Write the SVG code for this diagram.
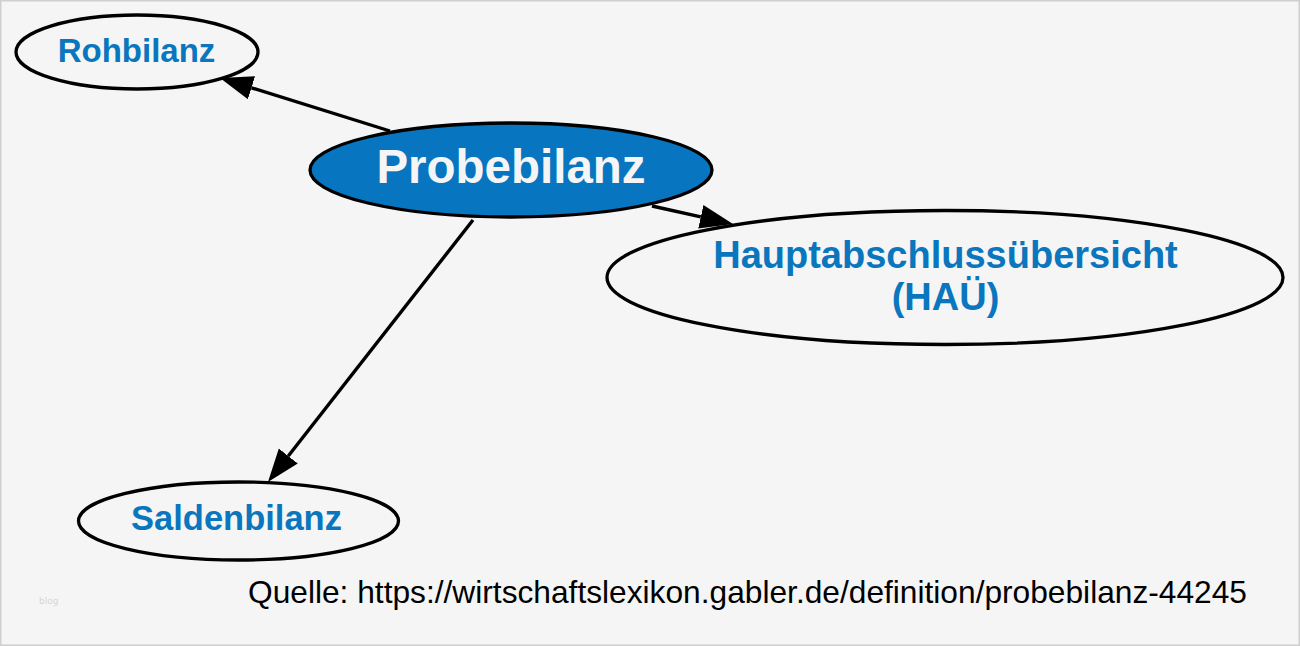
<svg xmlns="http://www.w3.org/2000/svg" width="1300" height="646" viewBox="0 0 1300 646">
<defs>
<style>
.bg{fill:#f5f5f5;stroke:#cfcfcf;stroke-width:1.5}
.node{fill:#f5f5f5;stroke:#000;stroke-width:3.3}
.main{fill:#0875c0;stroke:#000;stroke-width:3.3}
.lbl{font-family:"Liberation Sans",Arial,sans-serif;font-weight:bold;fill:#0a76be;text-anchor:middle}
.edge{stroke:#000;stroke-width:3.4;fill:none;marker-end:url(#arrow)}
</style>
<marker id="arrow" markerUnits="userSpaceOnUse" markerWidth="34" markerHeight="26" refX="0" refY="12" orient="auto" viewBox="0 0 34 26">
<path d="M0,0 L33,12 L0,24 Z" fill="#000"/>
</marker>
</defs>
<rect class="bg" x="0.75" y="0.75" width="1298.5" height="644.5"/>
<g id="connectors">
<line class="edge" x1="390" y1="131" x2="251.5" y2="87.8"/>
<line class="edge" x1="652" y1="206" x2="700.8" y2="216.8"/>
<line class="edge" x1="473" y1="220" x2="288.3" y2="456"/>
</g>
<g id="rohbilanz">
<ellipse class="node" cx="137" cy="52" rx="121" ry="37"/>
<text class="lbl" x="136.5" y="62" font-size="33">Rohbilanz</text>
</g>
<g id="probebilanz">
<ellipse class="main" cx="511" cy="170" rx="201" ry="47"/>
<text class="lbl" x="511" y="183" font-size="47.5" style="fill:#f5f5f5">Probebilanz</text>
</g>
<g id="hauptabschlussuebersicht">
<ellipse class="node" cx="945" cy="277.5" rx="338" ry="67"/>
<text class="lbl" x="945.5" y="268" font-size="38">Hauptabschlussübersicht</text>
<text class="lbl" x="945.5" y="310" font-size="38">(HAÜ)</text>
</g>
<g id="saldenbilanz">
<ellipse class="node" cx="238.5" cy="521" rx="160" ry="39"/>
<text class="lbl" x="236.5" y="530" font-size="34.5">Saldenbilanz</text>
</g>
<text x="248" y="603" font-family="Liberation Sans, Arial, sans-serif" font-size="32" fill="#000" textLength="999" lengthAdjust="spacingAndGlyphs">Quelle: https://wirtschaftslexikon.gabler.de/definition/probebilanz-44245</text>
<text x="39" y="604" font-family="DejaVu Sans, sans-serif" font-size="9" fill="#d6d6d6">blog</text>
</svg>
